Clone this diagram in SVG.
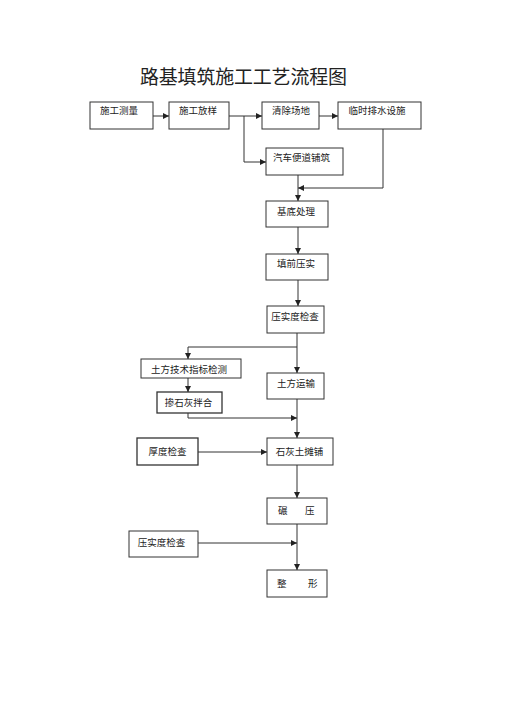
<svg xmlns="http://www.w3.org/2000/svg" width="505" height="714" viewBox="0 0 505 714">
<defs>
<marker id="ah" viewBox="0 0 10 10" refX="10" refY="5" markerWidth="6" markerHeight="6" markerUnits="userSpaceOnUse" orient="auto">
<path d="M0,0 L10,5 L0,10 z" fill="#222"/>
</marker>
</defs>
<style>
.b{fill:#fff;stroke:#333;stroke-width:1}
.t{font-family:"Liberation Serif","Noto Sans CJK SC",serif;font-size:9.5px;fill:#222;text-anchor:middle}
.l{text-anchor:start}
.c{fill:none;stroke:#333;stroke-width:1}
.a{marker-end:url(#ah)}
.title{font-family:"Noto Sans CJK SC",sans-serif;font-size:19px;fill:#222}
</style>
<rect width="505" height="714" fill="#fff"/>
<text class="title" x="140" y="84" textLength="207">路基填筑施工工艺流程图</text>

<g id="n1"><rect class="b" x="90" y="102" width="63" height="27"/><text class="t" x="119" y="114">施工测量</text></g>
<g id="n2"><rect class="b" x="169" y="102" width="60" height="27"/><text class="t" x="198" y="114">施工放样</text></g>
<g id="n3"><rect class="b" x="262" y="102" width="57" height="27"/><text class="t" x="291" y="114">清除场地</text></g>
<g id="n4"><rect class="b" x="338" y="102" width="83" height="27"/><text class="t" x="377" y="114">临时排水设施</text></g>
<g id="n5"><rect class="b" x="266" y="148" width="77" height="27"/><text class="t" x="301.5" y="161">汽车便道铺筑</text></g>
<g id="n6"><rect class="b" x="266" y="201" width="62" height="26"/><text class="t" x="296" y="215">基底处理</text></g>
<g id="n7"><rect class="b" x="266" y="254" width="62" height="26"/><text class="t" x="296" y="267">填前压实</text></g>
<g id="n8"><rect class="b" x="267" y="306" width="57" height="27"/><text class="t" x="295" y="320" font-size="9">压实度检查</text></g>
<g id="n9"><rect class="b" x="141" y="359" width="100" height="19"/><text class="t" x="189" y="373" font-size="8.5">土方技术指标检测</text></g>
<g id="n10"><rect class="b" x="267" y="373" width="57" height="26"/><text class="t" x="296" y="387">土方运输</text></g>
<g id="n11"><rect class="b" x="157" y="392" width="65" height="21" style="stroke-width:1.3"/><text class="t" x="188.5" y="406" font-size="9">掺石灰拌合</text></g>
<g id="n12"><rect class="b" x="137" y="438" width="61" height="27" style="stroke-width:1.3"/><text class="t" x="167.5" y="455">厚度检查</text></g>
<g id="n13"><rect class="b" x="267" y="438" width="66" height="27"/><text class="t" x="299.5" y="455">石灰土摊铺</text></g>
<g id="n14"><rect class="b" x="267" y="498" width="60" height="26"/><text class="t l" x="278" y="514">碾</text><text class="t l" x="305" y="514">压</text></g>
<g id="n15"><rect class="b" x="129" y="531" width="69" height="26"/><text class="t" x="161.5" y="546">压实度检查</text></g>
<g id="n16"><rect class="b" x="267" y="570" width="60" height="27"/><text class="t l" x="277" y="587">整</text><text class="t l" x="308" y="587">形</text></g>

<g id="connectors">
<path class="c a" d="M153,116 H169"/>
<path class="c a" d="M229,116 H262"/>
<path class="c a" d="M319,116 H338"/>
<path class="c a" d="M244,116 V162 H266"/>
<path class="c a" d="M383,129 V188 H298"/>
<path class="c a" d="M298,175 V201"/>
<path class="c a" d="M298,227 V254"/>
<path class="c a" d="M298,280 V306"/>
<path class="c a" d="M297,333 V373"/>
<path class="c a" d="M297,347 H188 V359"/>
<path class="c a" d="M188,378 V392"/>
<path class="c a" d="M188,413 V418 H297"/>
<path class="c a" d="M297,399 V438"/>
<path class="c a" d="M198,452 H267"/>
<path class="c a" d="M297,465 V498"/>
<path class="c a" d="M297,524 V570"/>
<path class="c a" d="M198,543 H297"/>
</g>
</svg>
